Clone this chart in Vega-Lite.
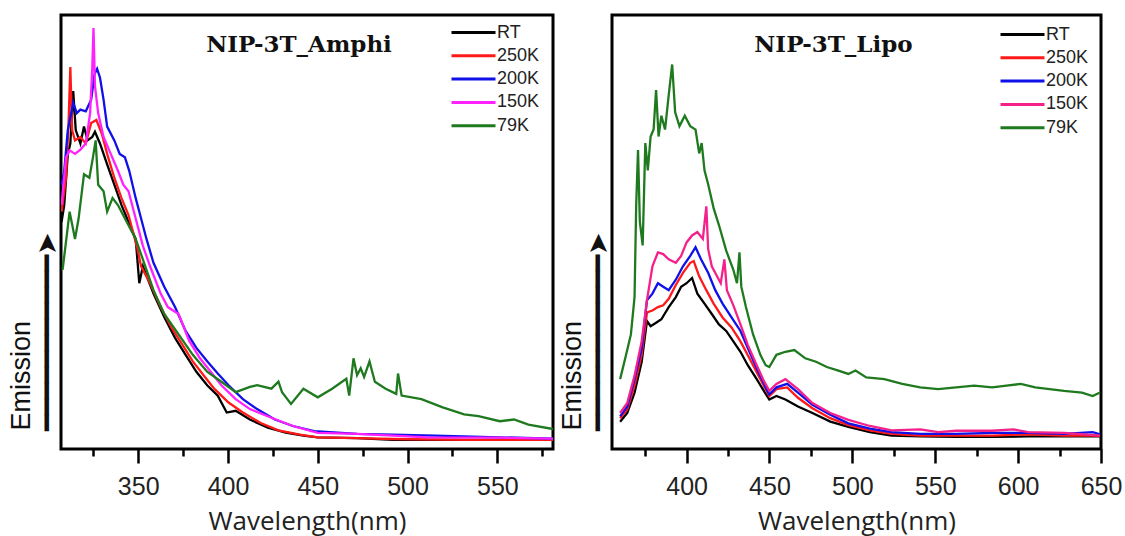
{
  "$schema": "https://vega.github.io/schema/vega-lite/v6.json",
  "background": "white",
  "padding": {"left": 5, "top": 13, "right": 0, "bottom": 0},
  "spacing": 1,
  "config": {
    "view": {"stroke": "black", "strokeWidth": 3},
    "font": "Liberation Sans",
    "axis": {"grid": false}
  },
  "datasets": {
    "amphi": [
      {"s":"RT","w":307.3,"e":52.3},{"s":"RT","w":308.8,"e":56.2},{"s":"RT","w":310.8,"e":68.0},{"s":"RT","w":312.2,"e":70.4},{"s":"RT","w":313.8,"e":82.5},{"s":"RT","w":315.2,"e":73.5},{"s":"RT","w":317.8,"e":70.4},{"s":"RT","w":319.8,"e":74.3},{"s":"RT","w":321.8,"e":71.1},{"s":"RT","w":324.4,"e":71.9},{"s":"RT","w":325.9,"e":73.1},{"s":"RT","w":328.7,"e":70.4},{"s":"RT","w":332.7,"e":65.6},{"s":"RT","w":336.7,"e":60.9},{"s":"RT","w":340.7,"e":56.2},{"s":"RT","w":344.6,"e":52.3},{"s":"RT","w":348.6,"e":48.4},{"s":"RT","w":350.6,"e":38.2},{"s":"RT","w":352.6,"e":42.1},{"s":"RT","w":358.5,"e":35.8},{"s":"RT","w":364.5,"e":30.4},{"s":"RT","w":370.5,"e":25.6},{"s":"RT","w":376.4,"e":21.7},{"s":"RT","w":382.4,"e":17.8},{"s":"RT","w":388.4,"e":14.7},{"s":"RT","w":394.3,"e":12.3},{"s":"RT","w":399.3,"e":8.4},{"s":"RT","w":404.3,"e":8.8},{"s":"RT","w":412.2,"e":6.8},{"s":"RT","w":422.2,"e":4.9},{"s":"RT","w":432.1,"e":3.8},{"s":"RT","w":442.0,"e":3.1},{"s":"RT","w":450.0,"e":2.7},{"s":"RT","w":471.9,"e":2.5},{"s":"RT","w":491.7,"e":2.1},{"s":"RT","w":511.6,"e":2.1},{"s":"RT","w":531.5,"e":2.1},{"s":"RT","w":551.4,"e":2.1},{"s":"RT","w":581,"e":2.1},
      {"s":"250K","w":307.3,"e":54.7},{"s":"250K","w":309.8,"e":62.5},{"s":"250K","w":311.2,"e":75.1},{"s":"250K","w":312.2,"e":88.0},{"s":"250K","w":313.2,"e":73.5},{"s":"250K","w":314.8,"e":71.1},{"s":"250K","w":317.8,"e":71.9},{"s":"250K","w":320.8,"e":70.4},{"s":"250K","w":323.8,"e":75.1},{"s":"250K","w":326.7,"e":75.8},{"s":"250K","w":329.7,"e":72.7},{"s":"250K","w":332.7,"e":68.0},{"s":"250K","w":336.7,"e":62.5},{"s":"250K","w":340.7,"e":57.8},{"s":"250K","w":344.6,"e":53.9},{"s":"250K","w":349.6,"e":46.1},{"s":"250K","w":351.6,"e":42.1},{"s":"250K","w":356.6,"e":38.2},{"s":"250K","w":362.5,"e":32.7},{"s":"250K","w":368.5,"e":28.0},{"s":"250K","w":374.5,"e":24.1},{"s":"250K","w":380.4,"e":20.2},{"s":"250K","w":386.4,"e":17.0},{"s":"250K","w":392.3,"e":13.9},{"s":"250K","w":400.3,"e":10.7},{"s":"250K","w":408.3,"e":8.4},{"s":"250K","w":418.2,"e":6.0},{"s":"250K","w":428.1,"e":4.3},{"s":"250K","w":440.1,"e":3.3},{"s":"250K","w":450.0,"e":2.7},{"s":"250K","w":471.9,"e":2.5},{"s":"250K","w":491.7,"e":2.3},{"s":"250K","w":531.5,"e":2.1},{"s":"250K","w":581,"e":2.1},
      {"s":"200K","w":307.3,"e":60.8},{"s":"200K","w":308.8,"e":64.1},{"s":"200K","w":310.8,"e":73.5},{"s":"200K","w":313.8,"e":79.8},{"s":"200K","w":315.8,"e":77.4},{"s":"200K","w":317.8,"e":78.2},{"s":"200K","w":320.8,"e":77.8},{"s":"200K","w":323.8,"e":80.5},{"s":"200K","w":325.7,"e":86.4},{"s":"200K","w":327.1,"e":87.6},{"s":"200K","w":328.7,"e":85.6},{"s":"200K","w":330.7,"e":80.5},{"s":"200K","w":332.7,"e":74.3},{"s":"200K","w":336.7,"e":71.1},{"s":"200K","w":339.7,"e":68.0},{"s":"200K","w":342.6,"e":67.2},{"s":"200K","w":345.0,"e":64.1},{"s":"200K","w":348.6,"e":57.8},{"s":"200K","w":351.6,"e":53.1},{"s":"200K","w":354.6,"e":48.4},{"s":"200K","w":358.5,"e":42.9},{"s":"200K","w":364.5,"e":37.4},{"s":"200K","w":370.5,"e":32.7},{"s":"200K","w":376.4,"e":27.2},{"s":"200K","w":382.4,"e":23.3},{"s":"200K","w":388.4,"e":20.2},{"s":"200K","w":394.3,"e":17.4},{"s":"200K","w":400.3,"e":14.7},{"s":"200K","w":408.3,"e":11.5},{"s":"200K","w":416.2,"e":9.2},{"s":"200K","w":426.1,"e":6.8},{"s":"200K","w":436.1,"e":5.3},{"s":"200K","w":448.0,"e":4.1},{"s":"200K","w":471.9,"e":3.5},{"s":"200K","w":491.7,"e":3.3},{"s":"200K","w":515.6,"e":3.1},{"s":"200K","w":551.4,"e":2.7},{"s":"200K","w":581,"e":2.4},
      {"s":"150K","w":307.3,"e":56.2},{"s":"150K","w":309.8,"e":67.2},{"s":"150K","w":311.8,"e":68.8},{"s":"150K","w":314.8,"e":68.0},{"s":"150K","w":317.8,"e":69.0},{"s":"150K","w":320.8,"e":70.4},{"s":"150K","w":323.2,"e":77.4},{"s":"150K","w":324.4,"e":87.6},{"s":"150K","w":325.1,"e":97.0},{"s":"150K","w":325.9,"e":83.7},{"s":"150K","w":327.7,"e":77.4},{"s":"150K","w":330.7,"e":71.9},{"s":"150K","w":334.7,"e":68.0},{"s":"150K","w":338.7,"e":64.1},{"s":"150K","w":341.7,"e":60.9},{"s":"150K","w":344.6,"e":59.4},{"s":"150K","w":348.6,"e":53.1},{"s":"150K","w":352.6,"e":46.8},{"s":"150K","w":356.6,"e":42.1},{"s":"150K","w":362.5,"e":35.8},{"s":"150K","w":366.5,"e":32.7},{"s":"150K","w":372.5,"e":31.1},{"s":"150K","w":378.4,"e":24.9},{"s":"150K","w":384.4,"e":20.9},{"s":"150K","w":390.4,"e":17.8},{"s":"150K","w":396.3,"e":14.7},{"s":"150K","w":404.3,"e":11.5},{"s":"150K","w":412.2,"e":9.2},{"s":"150K","w":424.2,"e":7.2},{"s":"150K","w":436.1,"e":5.3},{"s":"150K","w":450.0,"e":3.7},{"s":"150K","w":471.9,"e":3.5},{"s":"150K","w":491.7,"e":3.1},{"s":"150K","w":511.6,"e":2.7},{"s":"150K","w":551.4,"e":2.6},{"s":"150K","w":581,"e":2.4},
      {"s":"79K","w":307.9,"e":41.3},{"s":"79K","w":311.8,"e":54.7},{"s":"79K","w":314.8,"e":48.4},{"s":"79K","w":316.8,"e":53.1},{"s":"79K","w":319.8,"e":63.3},{"s":"79K","w":322.8,"e":62.5},{"s":"79K","w":324.8,"e":67.2},{"s":"79K","w":326.3,"e":71.1},{"s":"79K","w":327.7,"e":60.9},{"s":"79K","w":330.7,"e":59.4},{"s":"79K","w":332.7,"e":54.7},{"s":"79K","w":335.7,"e":57.8},{"s":"79K","w":338.7,"e":56.2},{"s":"79K","w":342.6,"e":53.1},{"s":"79K","w":348.6,"e":48.4},{"s":"79K","w":352.6,"e":43.7},{"s":"79K","w":358.5,"e":36.6},{"s":"79K","w":364.5,"e":31.1},{"s":"79K","w":372.5,"e":26.4},{"s":"79K","w":380.4,"e":21.7},{"s":"79K","w":388.4,"e":17.8},{"s":"79K","w":396.3,"e":15.5},{"s":"79K","w":404.3,"e":13.1},{"s":"79K","w":412.2,"e":14.3},{"s":"79K","w":416.2,"e":14.7},{"s":"79K","w":424.2,"e":13.9},{"s":"79K","w":428.1,"e":15.5},{"s":"79K","w":430.1,"e":13.1},{"s":"79K","w":435.1,"e":10.4},{"s":"79K","w":442.0,"e":13.9},{"s":"79K","w":450.0,"e":11.9},{"s":"79K","w":458.0,"e":13.9},{"s":"79K","w":465.9,"e":16.2},{"s":"79K","w":467.5,"e":12.3},{"s":"79K","w":469.9,"e":20.9},{"s":"79K","w":471.9,"e":17.0},{"s":"79K","w":473.9,"e":18.6},{"s":"79K","w":475.8,"e":16.6},{"s":"79K","w":478.8,"e":20.2},{"s":"79K","w":481.8,"e":15.5},{"s":"79K","w":487.8,"e":13.9},{"s":"79K","w":493.7,"e":12.7},{"s":"79K","w":494.7,"e":17.4},{"s":"79K","w":496.7,"e":12.3},{"s":"79K","w":507.7,"e":11.5},{"s":"79K","w":519.6,"e":9.6},{"s":"79K","w":531.5,"e":8.0},{"s":"79K","w":539.5,"e":7.6},{"s":"79K","w":551.4,"e":6.4},{"s":"79K","w":559.3,"e":6.8},{"s":"79K","w":567.3,"e":5.6},{"s":"79K","w":581,"e":4.6}
    ],
    "lipo": [
      {"s":"RT","w":359.9,"e":6.3},{"s":"RT","w":364.2,"e":8.3},{"s":"RT","w":368.6,"e":13.0},{"s":"RT","w":372.9,"e":20.1},{"s":"RT","w":376.1,"e":29.5},{"s":"RT","w":378.3,"e":28.3},{"s":"RT","w":381.6,"e":29.1},{"s":"RT","w":384.8,"e":29.9},{"s":"RT","w":389.2,"e":32.7},{"s":"RT","w":393.5,"e":35.0},{"s":"RT","w":396.7,"e":37.4},{"s":"RT","w":400.0,"e":38.2},{"s":"RT","w":403.3,"e":39.4},{"s":"RT","w":406.5,"e":35.8},{"s":"RT","w":410.8,"e":33.5},{"s":"RT","w":415.2,"e":31.1},{"s":"RT","w":419.5,"e":28.7},{"s":"RT","w":423.9,"e":27.2},{"s":"RT","w":428.2,"e":24.8},{"s":"RT","w":432.5,"e":22.4},{"s":"RT","w":436.9,"e":19.3},{"s":"RT","w":442.3,"e":16.1},{"s":"RT","w":446.6,"e":13.4},{"s":"RT","w":449.9,"e":11.4},{"s":"RT","w":454.2,"e":12.2},{"s":"RT","w":459.6,"e":11.4},{"s":"RT","w":467.2,"e":9.8},{"s":"RT","w":475.9,"e":8.3},{"s":"RT","w":486.7,"e":6.3},{"s":"RT","w":497.6,"e":5.1},{"s":"RT","w":510.6,"e":3.9},{"s":"RT","w":523.6,"e":3.1},{"s":"RT","w":540.9,"e":2.9},{"s":"RT","w":562.6,"e":2.8},{"s":"RT","w":584.3,"e":2.8},{"s":"RT","w":606.0,"e":2.9},{"s":"RT","w":627.7,"e":2.9},{"s":"RT","w":649.4,"e":2.9},
      {"s":"250K","w":359.9,"e":7.1},{"s":"250K","w":364.2,"e":9.1},{"s":"250K","w":368.6,"e":14.6},{"s":"250K","w":372.9,"e":21.7},{"s":"250K","w":376.1,"e":31.5},{"s":"250K","w":379.4,"e":31.9},{"s":"250K","w":382.7,"e":32.7},{"s":"250K","w":385.9,"e":33.1},{"s":"250K","w":389.2,"e":34.6},{"s":"250K","w":393.5,"e":37.8},{"s":"250K","w":397.8,"e":40.6},{"s":"250K","w":402.2,"e":42.9},{"s":"250K","w":404.3,"e":43.3},{"s":"250K","w":407.6,"e":39.8},{"s":"250K","w":411.9,"e":36.6},{"s":"250K","w":416.3,"e":33.5},{"s":"250K","w":421.7,"e":30.3},{"s":"250K","w":427.1,"e":28.0},{"s":"250K","w":432.5,"e":24.8},{"s":"250K","w":437.9,"e":20.9},{"s":"250K","w":443.4,"e":16.9},{"s":"250K","w":447.7,"e":13.8},{"s":"250K","w":449.9,"e":12.2},{"s":"250K","w":454.2,"e":13.8},{"s":"250K","w":460.7,"e":14.2},{"s":"250K","w":467.2,"e":11.8},{"s":"250K","w":475.9,"e":9.4},{"s":"250K","w":486.7,"e":7.1},{"s":"250K","w":497.6,"e":5.5},{"s":"250K","w":510.6,"e":4.3},{"s":"250K","w":523.6,"e":3.5},{"s":"250K","w":540.9,"e":3.1},{"s":"250K","w":562.6,"e":3.1},{"s":"250K","w":584.3,"e":3.1},{"s":"250K","w":606.0,"e":3.4},{"s":"250K","w":627.7,"e":3.1},{"s":"250K","w":649.4,"e":3.1},
      {"s":"200K","w":359.9,"e":7.5},{"s":"200K","w":364.2,"e":9.8},{"s":"200K","w":368.6,"e":16.1},{"s":"200K","w":372.9,"e":23.2},{"s":"200K","w":376.1,"e":34.3},{"s":"200K","w":379.4,"e":35.8},{"s":"200K","w":382.7,"e":38.2},{"s":"200K","w":385.9,"e":37.4},{"s":"200K","w":389.2,"e":36.6},{"s":"200K","w":393.5,"e":39.0},{"s":"200K","w":397.8,"e":42.1},{"s":"200K","w":402.2,"e":44.5},{"s":"200K","w":405.4,"e":46.5},{"s":"200K","w":408.7,"e":43.7},{"s":"200K","w":413.0,"e":40.6},{"s":"200K","w":417.3,"e":36.6},{"s":"200K","w":421.7,"e":33.5},{"s":"200K","w":427.1,"e":30.3},{"s":"200K","w":432.5,"e":27.2},{"s":"200K","w":437.9,"e":22.4},{"s":"200K","w":443.4,"e":17.7},{"s":"200K","w":447.7,"e":14.2},{"s":"200K","w":449.9,"e":12.6},{"s":"200K","w":454.2,"e":14.2},{"s":"200K","w":460.7,"e":15.0},{"s":"200K","w":467.2,"e":13.0},{"s":"200K","w":475.9,"e":10.2},{"s":"200K","w":486.7,"e":7.9},{"s":"200K","w":497.6,"e":5.9},{"s":"200K","w":510.6,"e":4.7},{"s":"200K","w":523.6,"e":3.9},{"s":"200K","w":540.9,"e":3.5},{"s":"200K","w":562.6,"e":3.5},{"s":"200K","w":584.3,"e":3.7},{"s":"200K","w":606.0,"e":3.7},{"s":"200K","w":627.7,"e":3.5},{"s":"200K","w":645.0,"e":3.9},{"s":"200K","w":649.4,"e":3.4},
      {"s":"150K","w":359.9,"e":8.3},{"s":"150K","w":364.2,"e":10.6},{"s":"150K","w":368.6,"e":16.9},{"s":"150K","w":372.9,"e":24.8},{"s":"150K","w":376.1,"e":34.3},{"s":"150K","w":379.4,"e":42.1},{"s":"150K","w":382.7,"e":45.3},{"s":"150K","w":385.9,"e":44.9},{"s":"150K","w":389.2,"e":43.7},{"s":"150K","w":393.5,"e":42.9},{"s":"150K","w":396.7,"e":44.5},{"s":"150K","w":400.0,"e":47.6},{"s":"150K","w":403.3,"e":49.2},{"s":"150K","w":406.5,"e":50.0},{"s":"150K","w":409.8,"e":48.4},{"s":"150K","w":411.9,"e":55.9},{"s":"150K","w":413.0,"e":46.1},{"s":"150K","w":415.2,"e":42.1},{"s":"150K","w":420.6,"e":38.2},{"s":"150K","w":422.8,"e":43.7},{"s":"150K","w":424.3,"e":36.6},{"s":"150K","w":428.2,"e":33.1},{"s":"150K","w":432.5,"e":28.7},{"s":"150K","w":436.9,"e":24.0},{"s":"150K","w":442.3,"e":19.3},{"s":"150K","w":446.6,"e":15.7},{"s":"150K","w":449.9,"e":13.4},{"s":"150K","w":454.2,"e":15.0},{"s":"150K","w":459.6,"e":16.1},{"s":"150K","w":467.2,"e":13.8},{"s":"150K","w":475.9,"e":10.6},{"s":"150K","w":486.7,"e":8.3},{"s":"150K","w":497.6,"e":6.7},{"s":"150K","w":510.6,"e":5.3},{"s":"150K","w":523.6,"e":4.3},{"s":"150K","w":540.9,"e":4.5},{"s":"150K","w":551.8,"e":3.9},{"s":"150K","w":562.6,"e":4.2},{"s":"150K","w":584.3,"e":4.2},{"s":"150K","w":597.3,"e":4.5},{"s":"150K","w":606.0,"e":3.9},{"s":"150K","w":627.7,"e":3.7},{"s":"150K","w":649.4,"e":3.1},
      {"s":"79K","w":359.9,"e":16.1},{"s":"79K","w":363.1,"e":21.1},{"s":"79K","w":366.4,"e":26.4},{"s":"79K","w":368.6,"e":35.0},{"s":"79K","w":369.6,"e":56.3},{"s":"79K","w":370.7,"e":68.9},{"s":"79K","w":371.8,"e":52.4},{"s":"79K","w":373.5,"e":46.9},{"s":"79K","w":375.1,"e":70.5},{"s":"79K","w":376.6,"e":64.2},{"s":"79K","w":378.3,"e":72.0},{"s":"79K","w":380.1,"e":73.6},{"s":"79K","w":381.6,"e":82.7},{"s":"79K","w":383.1,"e":72.0},{"s":"79K","w":384.8,"e":76.8},{"s":"79K","w":387.0,"e":73.6},{"s":"79K","w":389.2,"e":81.5},{"s":"79K","w":391.3,"e":88.6},{"s":"79K","w":393.1,"e":77.6},{"s":"79K","w":395.7,"e":74.4},{"s":"79K","w":398.9,"e":76.8},{"s":"79K","w":402.2,"e":74.4},{"s":"79K","w":405.4,"e":73.6},{"s":"79K","w":407.6,"e":68.1},{"s":"79K","w":409.1,"e":70.5},{"s":"79K","w":410.8,"e":64.2},{"s":"79K","w":413.0,"e":61.0},{"s":"79K","w":416.3,"e":55.5},{"s":"79K","w":419.5,"e":51.6},{"s":"79K","w":423.9,"e":45.7},{"s":"79K","w":428.2,"e":41.3},{"s":"79K","w":430.4,"e":38.2},{"s":"79K","w":431.9,"e":45.3},{"s":"79K","w":433.0,"e":37.4},{"s":"79K","w":435.8,"e":32.7},{"s":"79K","w":440.1,"e":26.4},{"s":"79K","w":444.5,"e":21.7},{"s":"79K","w":447.7,"e":19.3},{"s":"79K","w":449.9,"e":18.9},{"s":"79K","w":454.2,"e":21.7},{"s":"79K","w":459.6,"e":22.4},{"s":"79K","w":465.0,"e":22.8},{"s":"79K","w":471.6,"e":20.9},{"s":"79K","w":478.1,"e":20.1},{"s":"79K","w":484.6,"e":18.9},{"s":"79K","w":491.1,"e":18.1},{"s":"79K","w":497.6,"e":17.3},{"s":"79K","w":501.9,"e":18.1},{"s":"79K","w":508.4,"e":16.5},{"s":"79K","w":519.3,"e":16.1},{"s":"79K","w":530.1,"e":15.0},{"s":"79K","w":540.9,"e":14.2},{"s":"79K","w":551.8,"e":13.8},{"s":"79K","w":562.6,"e":14.2},{"s":"79K","w":573.5,"e":14.6},{"s":"79K","w":584.3,"e":14.2},{"s":"79K","w":593.0,"e":14.6},{"s":"79K","w":601.6,"e":15.0},{"s":"79K","w":610.3,"e":14.2},{"s":"79K","w":619.0,"e":13.8},{"s":"79K","w":627.7,"e":13.4},{"s":"79K","w":638.5,"e":13.0},{"s":"79K","w":645.0,"e":12.2},{"s":"79K","w":649.4,"e":13.0}
    ]
  },
  "hconcat": [
    {
      "width": 492,
      "height": 434,
      "data": {"name": "amphi"},
      "title": {"text": "NIP-3T_Amphi", "font": "DejaVu Serif", "fontSize": 23, "fontWeight": "bold", "color": "#111", "anchor": "middle", "frame": "group", "offset": -60, "baseline": "alphabetic", "dx": -8},
      "mark": {"type": "line", "strokeWidth": 2.3, "clip": true},
      "encoding": {
        "x": {"field": "w", "type": "quantitative", "scale": {"domain": [307, 581], "nice": false, "zero": false},
          "axis": {"title": "Wavelength(nm)", "values": [325, 350, 375, 400, 425, 450, 475, 500, 525, 550, 575],
            "labelExpr": "datum.value % 50 === 0 ? datum.label : ''", "domain": false, "grid": false,
            "tickColor": "black", "tickWidth": 2.5, "tickSize": {"condition": {"test": "datum.value % 50 === 0", "value": 14}, "value": 7},
            "labelFont": "Liberation Sans", "labelFontSize": 25, "labelColor": "#222", "labelPadding": 11, "labelFlush": false, "labelOverlap": false,
            "titleFont": "Open Sans", "titleFontSize": 26, "titleFontWeight": "normal", "titleColor": "#222", "titlePadding": 9}},
        "y": {"field": "e", "type": "quantitative", "scale": {"domain": [0, 100], "nice": false},
          "axis": {"title": ["Emission", "━━━━━━━━━━━➤"], "labels": false, "ticks": false, "domain": false, "grid": false,
            "titleFont": "Liberation Sans", "titleFontSize": 27, "titleFontWeight": "normal", "titleColor": "#111",
            "titleAngle": 270, "titleAlign": "left", "titleY": 415, "titleLineHeight": 26, "titlePadding": 0}},
        "color": {"field": "s", "type": "nominal",
          "scale": {"domain": ["RT", "250K", "200K", "150K", "79K"], "range": ["#000000", "#ff1a1a", "#1010e8", "#ff22ff", "#1f7a1f"]},
          "legend": {"orient": "none", "legendX": 401, "legendY": 6, "title": null, "symbolType": "M-2.2,0L2.2,0", "symbolSize": 400, "symbolStrokeWidth": 3,
            "labelFont": "Liberation Sans", "labelFontSize": 18, "labelColor": "#222", "labelOffset": 12, "rowPadding": 2.3, "padding": 0,
            "labelExpr": "datum.label == '79K' ? '\u2007\u00a079K' : datum.label"}}
      }
    },
    {
      "width": 489,
      "height": 434,
      "data": {"name": "lipo"},
      "title": {"text": "NIP-3T_Lipo", "font": "DejaVu Serif", "fontSize": 23, "fontWeight": "bold", "color": "#111", "anchor": "middle", "frame": "group", "offset": -60, "baseline": "alphabetic", "dx": -23},
      "mark": {"type": "line", "strokeWidth": 2.3, "clip": true},
      "encoding": {
        "x": {"field": "w", "type": "quantitative", "scale": {"domain": [355, 650], "nice": false, "zero": false},
          "axis": {"title": "Wavelength(nm)", "values": [375, 400, 425, 450, 475, 500, 525, 550, 575, 600, 625, 650],
            "labelExpr": "datum.value % 50 === 0 ? datum.label : ''", "domain": false, "grid": false,
            "tickColor": "black", "tickWidth": 2.5, "tickSize": {"condition": {"test": "datum.value % 50 === 0", "value": 14}, "value": 7},
            "labelFont": "Liberation Sans", "labelFontSize": 25, "labelColor": "#222", "labelPadding": 11, "labelFlush": false, "labelOverlap": false,
            "titleFont": "Open Sans", "titleFontSize": 26, "titleFontWeight": "normal", "titleColor": "#222", "titlePadding": 9}},
        "y": {"field": "e", "type": "quantitative", "scale": {"domain": [0, 100], "nice": false},
          "axis": {"title": ["Emission", "━━━━━━━━━━━➤"], "labels": false, "ticks": false, "domain": false, "grid": false,
            "titleFont": "Liberation Sans", "titleFontSize": 27, "titleFontWeight": "normal", "titleColor": "#111",
            "titleAngle": 270, "titleAlign": "left", "titleY": 415, "titleLineHeight": 26, "titlePadding": 0}},
        "color": {"field": "s", "type": "nominal",
          "scale": {"domain": ["RT", "250K", "200K", "150K", "79K"], "range": ["#000000", "#ff1a1a", "#1010e8", "#f5208a", "#1f7a1f"]},
          "legend": {"orient": "none", "legendX": 399, "legendY": 8, "title": null, "symbolType": "M-2.2,0L2.2,0", "symbolSize": 400, "symbolStrokeWidth": 3,
            "labelFont": "Liberation Sans", "labelFontSize": 18, "labelColor": "#222", "labelOffset": 12, "rowPadding": 2.3, "padding": 0}}
      }
    }
  ],
  "resolve": {"scale": {"color": "independent"}, "legend": {"color": "independent"}}
}
